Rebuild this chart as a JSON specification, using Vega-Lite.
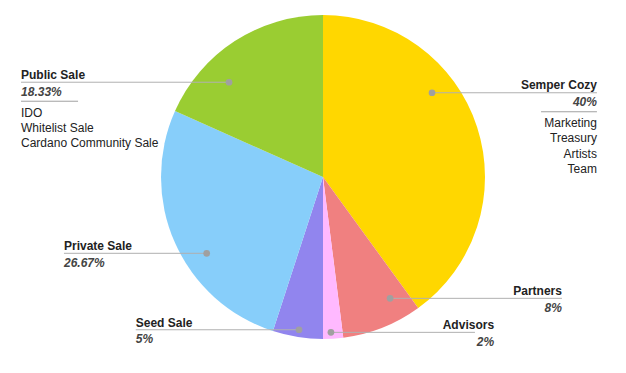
{
  "$schema": "https://vega.github.io/schema/vega-lite/v6.json",
  "autosize": {"type": "fit", "contains": "padding"},
  "width": 626,
  "height": 373,
  "padding": 0,
  "background": "white",
  "config": {"view": {"stroke": null}, "text": {"font": "Liberation Sans", "fontSize": 12}},
  "datasets": {
    "slices": [
      {"name": "Semper Cozy", "value": 40, "idx": 1},
      {"name": "Partners", "value": 8, "idx": 2},
      {"name": "Advisors", "value": 2, "idx": 3},
      {"name": "Seed Sale", "value": 5, "idx": 4},
      {"name": "Private Sale", "value": 26.67, "idx": 5},
      {"name": "Public Sale", "value": 18.33, "idx": 6}
    ],
    "notes": [
      {"name": "Public Sale", "pct": "18.33%", "sub": "IDO\nWhitelist Sale\nCardano Community Sale", "side": "left", "ax": -186.4, "lx": -186.4, "sepx": -151.2, "px": -58.0, "py": 58.5},
      {"name": "Private Sale", "pct": "26.67%", "sub": "", "side": "left", "ax": -159.9, "lx": -159.9, "sepx": null, "px": -71.8, "py": -47.1},
      {"name": "Seed Sale", "pct": "5%", "sub": "", "side": "left", "ax": -115.6, "lx": -115.6, "sepx": null, "px": -14.8, "py": -94.3},
      {"name": "Semper Cozy", "pct": "40%", "sub": "Marketing\nTreasury\nArtists\nTeam", "side": "right", "ax": 169.1, "lx": 169.1, "sepx": 134.6, "px": 67.3, "py": 52.0},
      {"name": "Partners", "pct": "8%", "sub": "", "side": "right", "ax": 147.5, "lx": 147.5, "sepx": null, "px": 41.4, "py": -74.9},
      {"name": "Advisors", "pct": "2%", "sub": "", "side": "right", "ax": 105.6, "lx": 93.8, "sepx": null, "px": 4.9, "py": -95.9}
    ]
  },
  "resolve": {"scale": {"x": "shared", "y": "shared"}},
  "layer": [
    {
      "data": {"name": "slices"},
      "mark": {"type": "arc", "outerRadius": 162},
      "encoding": {
        "x": {"datum": 0, "type": "quantitative", "scale": {"domain": [-199.38, 187.04], "nice": false, "zero": false}, "axis": null},
        "y": {"datum": 0, "type": "quantitative", "scale": {"domain": [-120.99, 109.26], "nice": false, "zero": false}, "axis": null},
        "theta": {"field": "value", "type": "quantitative", "stack": true},
        "order": {"field": "idx", "type": "quantitative"},
        "color": {
          "field": "name", "type": "nominal", "legend": null,
          "scale": {
            "domain": ["Semper Cozy", "Partners", "Advisors", "Seed Sale", "Private Sale", "Public Sale"],
            "range": ["#FFD700", "#F08080", "#FFB9FF", "#9185EE", "#87CEFA", "#9ACD32"]
          }
        }
      }
    },
    {
      "data": {"name": "notes"},
      "mark": {"type": "rule", "color": "#b0b0b0", "strokeWidth": 1},
      "encoding": {
        "x": {"field": "px", "type": "quantitative", "axis": null},
        "x2": {"field": "lx"},
        "y": {"field": "py", "type": "quantitative", "axis": null}
      }
    },
    {
      "data": {"name": "notes"},
      "transform": [{"filter": "datum.sepx != null"}],
      "mark": {"type": "rule", "color": "#a0a0a0", "strokeWidth": 1, "yOffset": 19},
      "encoding": {
        "x": {"field": "ax", "type": "quantitative", "axis": null},
        "x2": {"field": "sepx"},
        "y": {"field": "py", "type": "quantitative", "axis": null}
      }
    },
    {
      "data": {"name": "notes"},
      "mark": {"type": "circle", "color": "#a0a0a0", "size": 45, "opacity": 1},
      "encoding": {
        "x": {"field": "px", "type": "quantitative", "axis": null},
        "y": {"field": "py", "type": "quantitative", "axis": null}
      }
    },
    {
      "data": {"name": "notes"},
      "transform": [{"filter": "datum.side == 'left'"}],
      "layer": [
        {"mark": {"type": "text", "align": "left", "baseline": "alphabetic", "dy": -3, "fontWeight": "bold", "color": "#222222"},
         "encoding": {"text": {"field": "name"}}},
        {"mark": {"type": "text", "align": "left", "baseline": "alphabetic", "dy": 13.5, "fontWeight": "bold", "fontStyle": "italic", "color": "#444444"},
         "encoding": {"text": {"field": "pct"}}},
        {"mark": {"type": "text", "align": "left", "baseline": "alphabetic", "dy": 34.5, "lineBreak": "\n", "lineHeight": 15, "color": "#222222"},
         "encoding": {"text": {"field": "sub"}}}
      ],
      "encoding": {
        "x": {"field": "ax", "type": "quantitative", "axis": null},
        "y": {"field": "py", "type": "quantitative", "axis": null}
      }
    },
    {
      "data": {"name": "notes"},
      "transform": [{"filter": "datum.side == 'right'"}],
      "layer": [
        {"mark": {"type": "text", "align": "right", "baseline": "alphabetic", "dy": -3.5, "fontWeight": "bold", "color": "#222222"},
         "encoding": {"text": {"field": "name"}}},
        {"mark": {"type": "text", "align": "right", "baseline": "alphabetic", "dy": 13.5, "fontWeight": "bold", "fontStyle": "italic", "color": "#444444"},
         "encoding": {"text": {"field": "pct"}}},
        {"mark": {"type": "text", "align": "right", "baseline": "alphabetic", "dy": 34, "lineBreak": "\n", "lineHeight": 15.5, "color": "#222222"},
         "encoding": {"text": {"field": "sub"}}}
      ],
      "encoding": {
        "x": {"field": "ax", "type": "quantitative", "axis": null},
        "y": {"field": "py", "type": "quantitative", "axis": null}
      }
    }
  ]
}
